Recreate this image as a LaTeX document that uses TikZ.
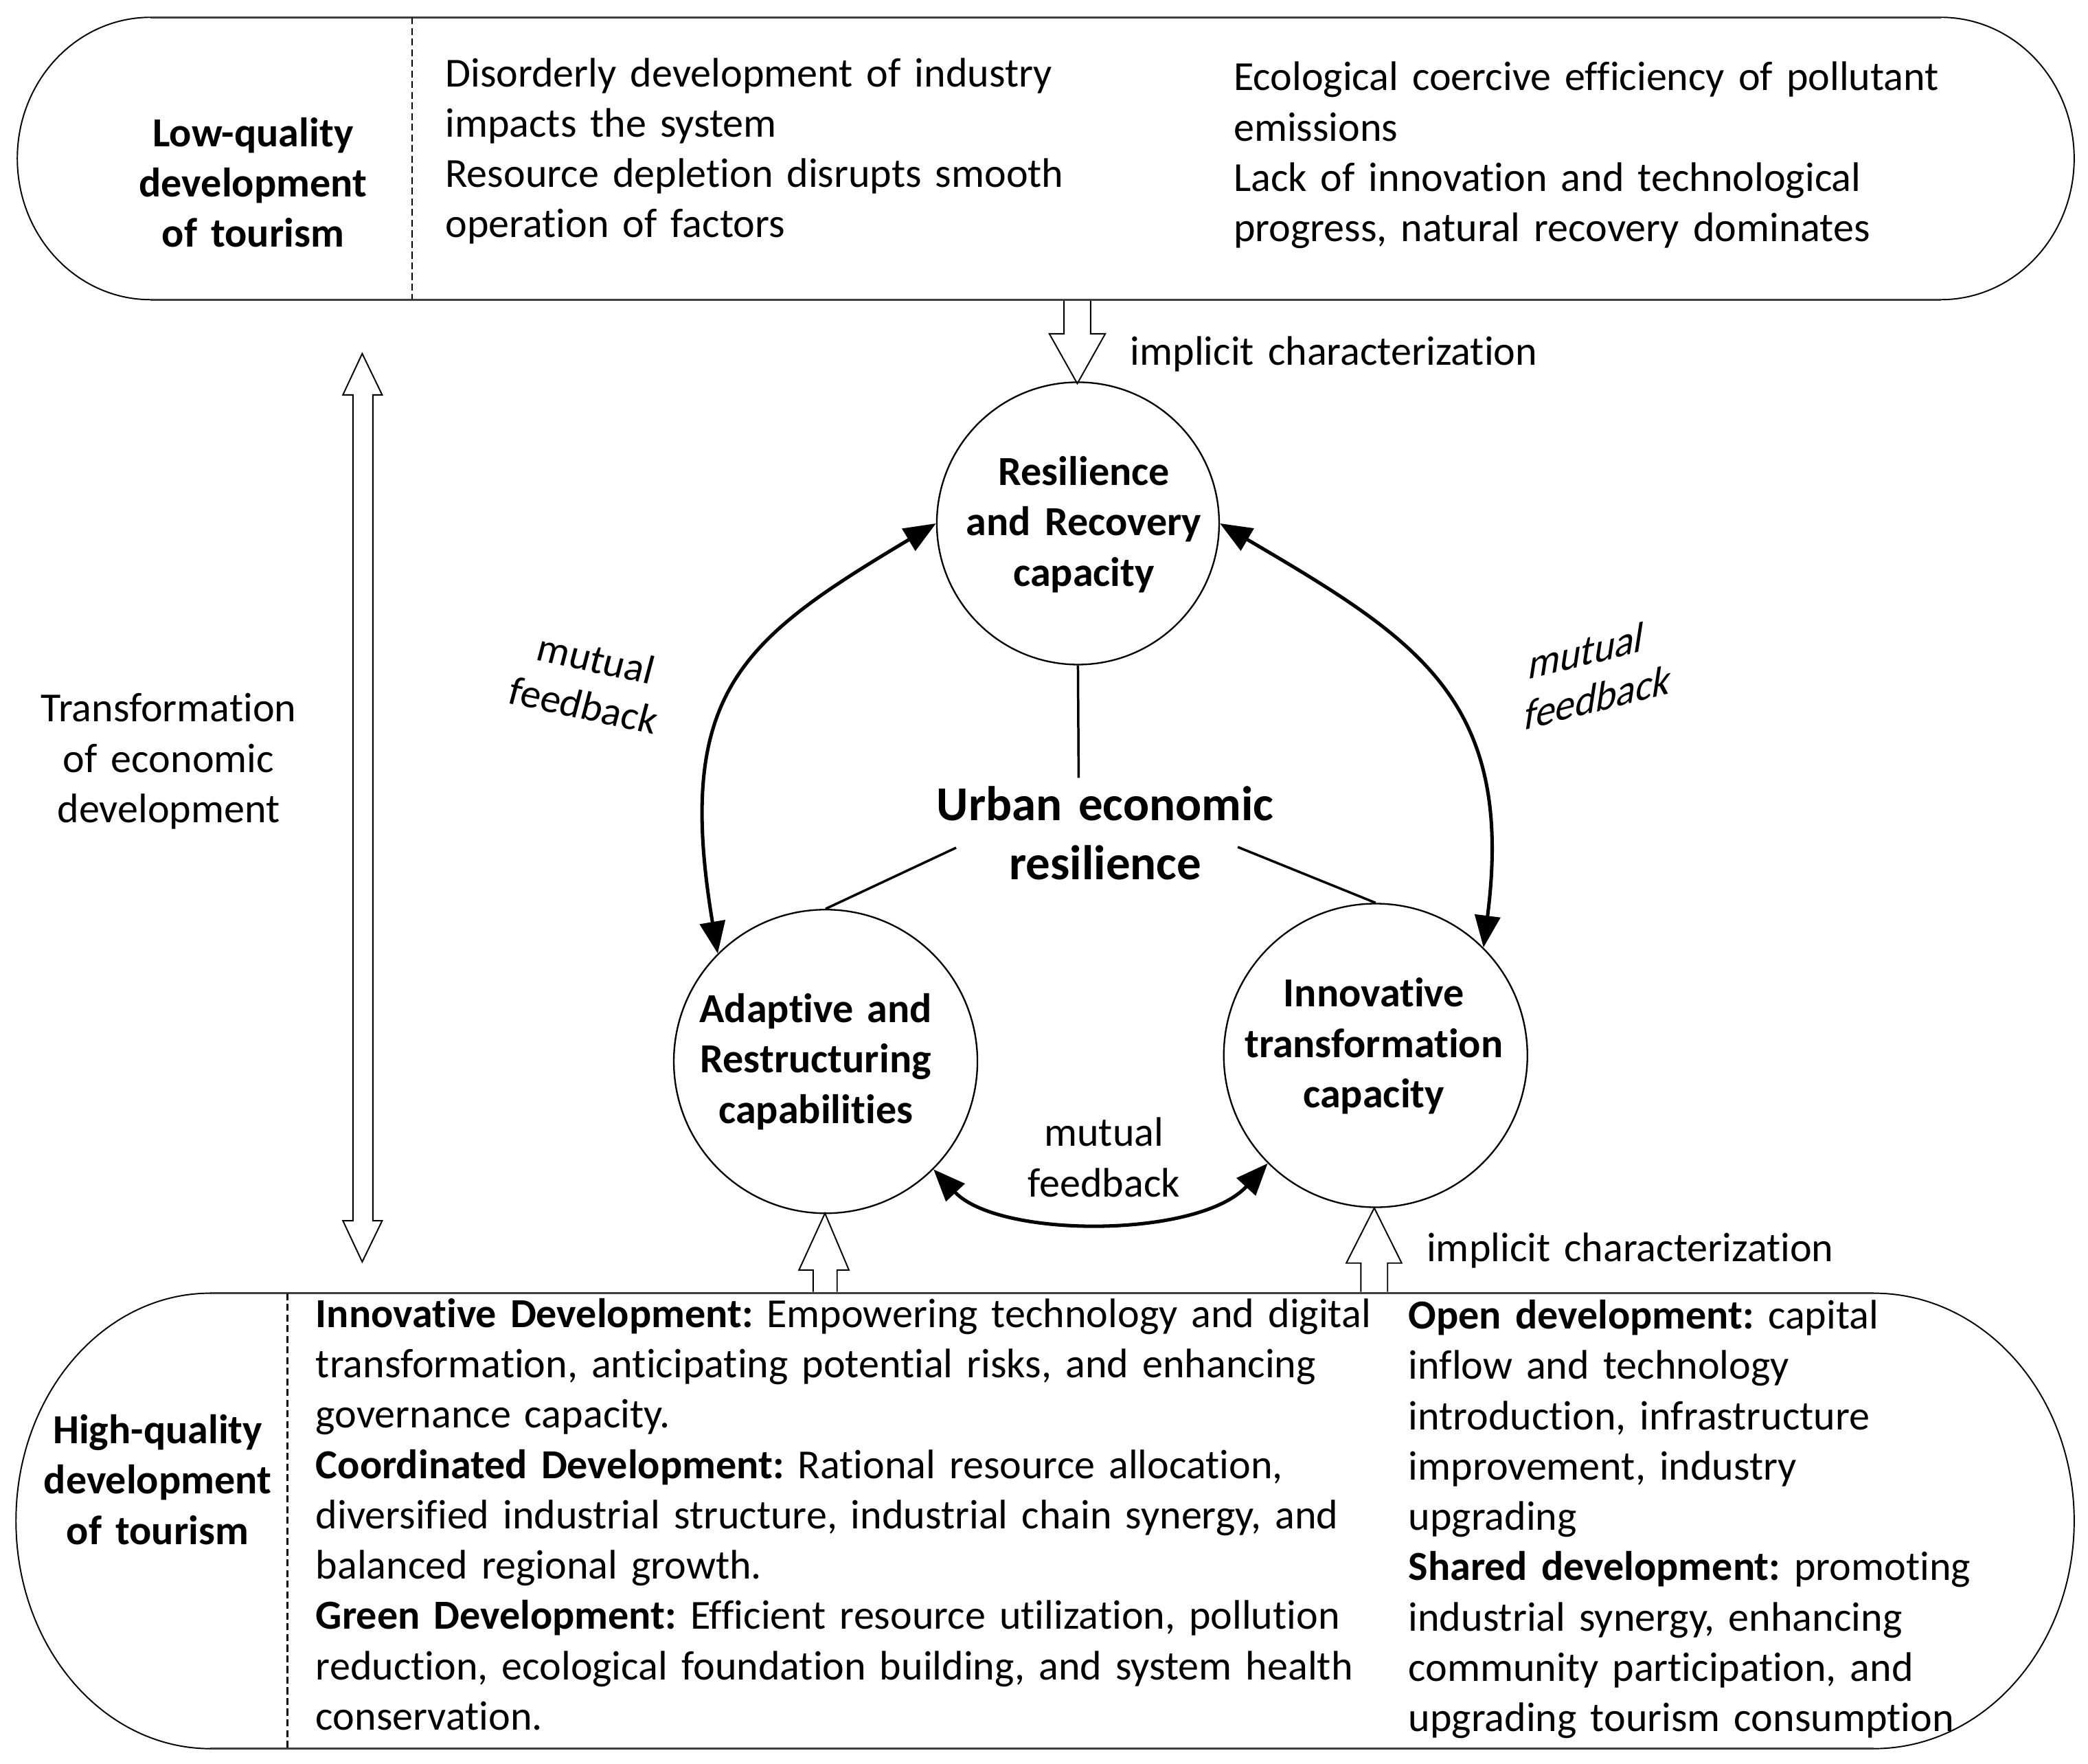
\documentclass[tikz,border=0pt]{standalone}
\usepackage{fontspec}
\setmainfont{Carlito}[Ligatures=CommonOff]
\usetikzlibrary{arrows.meta,calc}
\frenchspacing
\begin{document}
\frenchspacing
\begin{tikzpicture}[x=0.5pt,y=-0.5pt,
  txt/.style={font=\fontsize{15.5}{18.9}\selectfont, inner sep=0pt, align=left, text width=320pt, anchor=base west},
  txtc/.style={font=\fontsize{15.5}{18.9}\selectfont, inner sep=0pt, align=center, text width=140pt, anchor=base},
  bold/.style={font=\fontsize{15.5}{18.9}\selectfont\bfseries},
  fbtxt/.style={font=\fontsize{15.3}{18}\selectfont, inner sep=0pt},
  capnode/.style={draw=black, line width=0.6pt, circle, inner sep=0pt},
  boxline/.style={draw=black!75, line width=0.8pt},
  boxarc/.style={draw=black, line width=0.5pt},
  divider/.style={draw=black, line width=0.7pt, dash pattern=on 2.6pt off 1.4pt},
  hollow/.style={draw=black, fill=white, line width=0.5pt, line join=miter},
  fb/.style={line width=1.3pt, {Triangle[length=12pt,width=9.5pt]}-{Triangle[length=12pt,width=9.5pt]}},
  link/.style={line width=0.9pt}
]
\useasboundingbox (0,0) rectangle (1568,1324.5);

% ---------- hollow arrows ----------
\draw[hollow] (799,225) -- (799,250.6) -- (788,250.6) -- (809,288) -- (830,250.6) -- (819,250.6) -- (819,225);
\draw[hollow] (610.6,970) -- (610.6,953.6) -- (600,953.6) -- (619.5,911) -- (637.5,953.6) -- (628.6,953.6) -- (628.6,970);
\draw[hollow] (1022,970) -- (1022,948.4) -- (1011,948.4) -- (1032,907) -- (1052.6,948.4) -- (1042,948.4) -- (1042,970);
\draw[hollow] (272,265.5) -- (287,296.5) -- (280,296.5) -- (280,916.6) -- (287,916.6) -- (272,947.5)
   -- (257.5,916.6) -- (265,916.6) -- (265,296.5) -- (257.5,296.5) -- cycle;

% ---------- top box ----------
\draw[boxline] (113,13) -- (1457.5,13);
\draw[boxline] (113,225) -- (1457.5,225);
\draw[boxarc] (113,13) .. controls (57.8,13) and (13,60.5) .. (13,119) .. controls (13,177.5) and (57.8,225) .. (113,225);
\draw[boxarc] (1457.5,13) .. controls (1512.8,13) and (1557.6,60.5) .. (1557.6,119) .. controls (1557.6,177.5) and (1512.8,225) .. (1457.5,225);
\draw[divider] (309.5,13) -- (309.5,225);

\node[txtc, bold] (tl) at (190,110) {Low-quality\\development\\of tourism};
\node[txt] (tm) at (334,65) {Disorderly development of industry\\impacts the system\\Resource depletion disrupts smooth\\operation of factors};
\node[txt] (tr) at (926,68) {Ecological coercive efficiency of pollutant\\emissions\\Lack of innovation and technological\\progress, natural recovery dominates};

% ---------- bottom box ----------
\draw[boxline] (158,971) -- (1407,971);
\draw[boxline] (158,1313) -- (1407,1313);
\draw[boxarc] (158,971) .. controls (77.4,971) and (12,1047.4) .. (12,1142) .. controls (12,1236.6) and (77.4,1313) .. (158,1313);
\draw[boxarc] (1407,971) .. controls (1490.1,971) and (1557.6,1047.4) .. (1557.6,1142) .. controls (1557.6,1236.6) and (1490.1,1313) .. (1407,1313);
\draw[divider] (216,971) -- (216,1313);

\node[txtc, bold] (bl) at (118.4,1084) {High-quality\\development\\of tourism};
\node[txt, text width=420pt] (bm) at (236.8,996.6) {\textbf{Innovative Development:} Empowering technology and digital\\transformation, anticipating potential risks, and enhancing\\governance capacity.\\\textbf{Coordinated Development:} Rational resource allocation,\\diversified industrial structure, industrial chain synergy, and\\balanced regional growth.\\\textbf{Green Development:} Efficient resource utilization, pollution\\reduction, ecological foundation building, and system health\\conservation.};
\node[txt] (br) at (1057.3,997.8) {\textbf{Open development:} capital\\inflow and technology\\introduction, infrastructure\\improvement, industry\\upgrading\\\textbf{Shared development:} promoting\\industrial synergy, enhancing\\community participation, and\\upgrading tourism consumption};

% ---------- left label ----------
\node[txtc] (trans) at (126.6,542) {Transformation\\of economic\\development};

% ---------- circles ----------
\node[capnode, minimum size=106pt] (rr) at (809.5,393) {};
\node[capnode, minimum size=114pt] (ad) at (620,797) {};
\node[capnode, minimum size=114pt] (it) at (1033,792.5) {};

\node[txtc, bold] (rrt) at (814,364.5) {Resilience\\and Recovery\\capacity};
\node[txtc, bold] (adt) at (612.6,767.7) {Adaptive and\\Restructuring\\capabilities};
\node[txtc, bold] (itt) at (1031.7,756) {Innovative\\transformation\\capacity};

\node[txtc, font=\fontsize{18.3}{22.2}\selectfont\bfseries] (urban) at (830,616) {Urban economic\\resilience};

\node[txt] (ic1) at (848.5,274.3) {implicit characterization};
\node[txt] (ic2) at (1071,947.3) {implicit characterization};

% ---------- links ----------
\coordinate (uTop) at (810,584);
\coordinate (uL) at (718,636.5);
\coordinate (uR) at (929.5,636);
\draw[link] (rr.south) -- (uTop);
\draw[link] (uL) -- (ad.north);
\draw[link] (uR) -- (it.north);

% ---------- feedback arcs ----------
\draw[fb] (ad.135) .. controls (506,519) and (557.5,480) .. (rr.180);
\draw[fb] (rr.0) .. controls (1064,480) and (1138,525) .. (it.45);
\draw[fb] (ad.-45) .. controls (750,930) and (900,930) .. (it.-135);

\node[txtc] (fbB) at (829,860.7) {mutual\\feedback};
\begin{scope}[shift={(443,512)}, rotate=-12, xslant=0.05, transform shape]
  \node[fbtxt] (fbL1) at (0,-18) {mutual};
  \node[fbtxt] (fbL2) at (0,18) {feedback};
\end{scope}
\begin{scope}[shift={(1196,506)}, rotate=14, xslant=0.42, transform shape]
  \node[fbtxt] (fbR1) at (-7.6,-18) {mutual};
  \node[fbtxt] (fbR2) at (7.6,18) {feedback};
\end{scope}
\end{tikzpicture}
\end{document}
